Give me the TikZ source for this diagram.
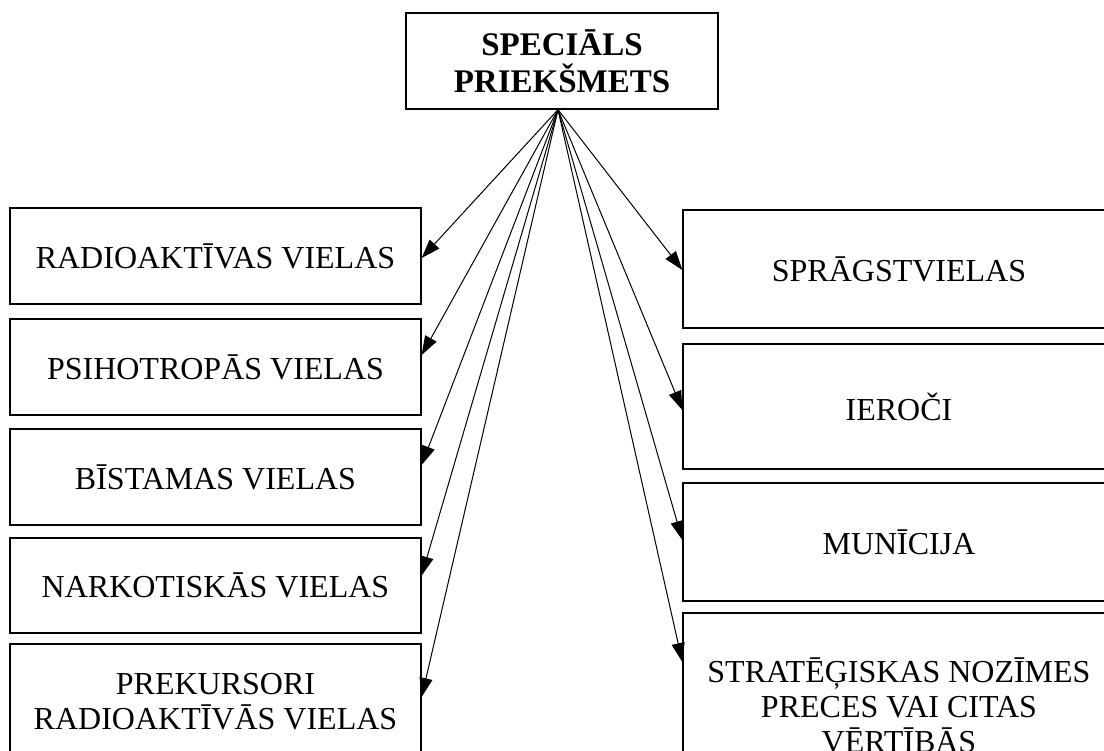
\documentclass[tikz,border=0pt]{standalone}
\usepackage{fontspec}
\setmainfont{Liberation Serif}
\usetikzlibrary{arrows.meta,positioning}

\tikzset{
	item/.style={draw, line width=1.3pt, inner sep=0pt, align=center,
		font=\fontsize{32}{35}\selectfont},
	leftitem/.style={item, minimum width=411pt, minimum height=96pt},
	rightitem/.style={item, minimum width=432pt},
	link/.style={-{Triangle[length=19pt,width=13pt]}, line width=1pt}
}

\begin{document}
\begin{tikzpicture}[x=1pt,y=-1pt]
	\useasboundingbox (0,0) rectangle (1104,751);
	\clip (0,0) rectangle (1104,751);
	
	\node[item, font=\fontsize{33}{37}\selectfont\bfseries, minimum width=312pt, minimum height=96pt] (spec) at (562,61) {SPECIĀLS\\PRIEKŠMETS};
	\coordinate (hub) at ([xshift=-4pt]spec.south);
	
	% left column
	\node[leftitem] (l1) at (215.5,256) {RADIOAKTĪVAS VIELAS};
	\node[leftitem] (l2) at (215.5,367) {PSIHOTROPĀS VIELAS};
	\node[leftitem] (l3) at (215.5,477) {BĪSTAMAS VIELAS};
	\node[leftitem, minimum height=95pt] (l4) at (215.5,585.5) {NARKOTISKĀS VIELAS};
	\node[leftitem, minimum height=116pt] (l5) at (215.5,702) {PREKURSORI\\RADIOAKTĪVĀS VIELAS};
	
	% right column
	\node[rightitem, minimum height=118pt] (r1) at (899,269) {SPRĀGSTVIELAS};
	\node[rightitem, minimum height=125pt] (r2) at (899,406.5) {IEROČI};
	\node[rightitem, minimum height=118pt] (r3) at (899,542) {MUNĪCIJA};
	\node[rightitem, minimum height=184pt] (r4) at (899,705) {STRATĒĢISKAS NOZĪMES\\PRECES VAI CITAS\\VĒRTĪBĀS};
	
	\foreach \b/\s in {l1/-2, l2/12, l3/12, l4/10, l5/5}
		\draw[link] (hub) -- ([yshift=\s pt]\b.east);
	\foreach \b/\s in {r1/-1, r2/-3.5, r3/2, r4/43}
		\draw[link] (hub) -- ([yshift=\s pt]\b.west);
	
\end{tikzpicture}
\end{document}
